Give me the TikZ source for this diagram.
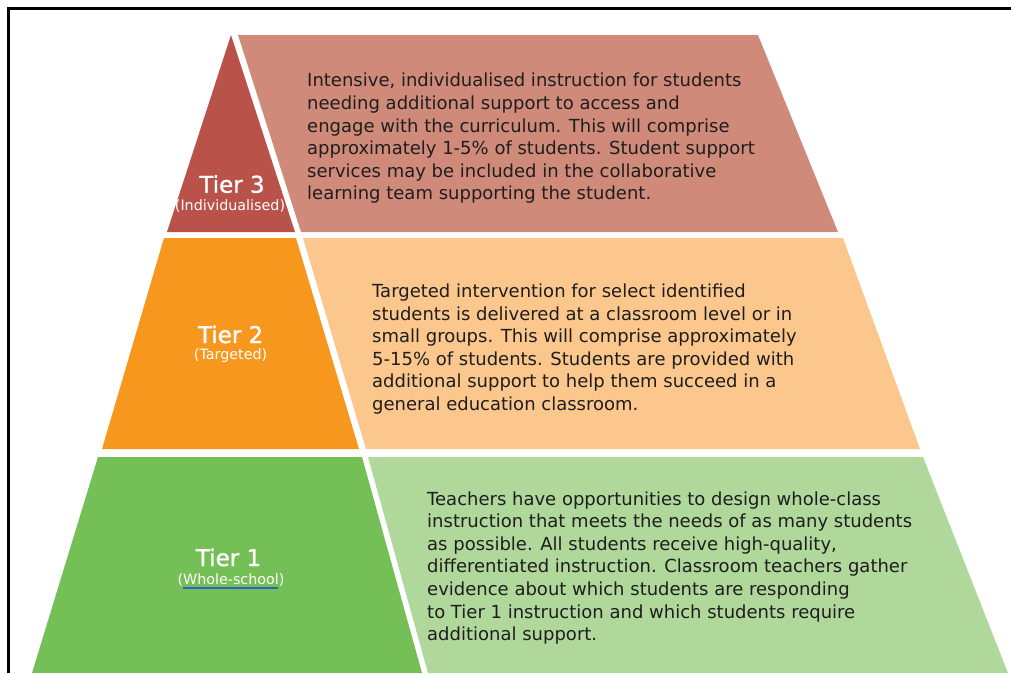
\documentclass[tikz,border=0pt]{standalone}
\usepackage{fontspec}
\setmainfont{DejaVu Sans}
\newfontfamily\tierfont[FakeBold=1.2]{DejaVu Sans}
\definecolor{tthreeL}{HTML}{B9534A}
\definecolor{tthreeR}{HTML}{D08A7A}
\definecolor{ttwoL}{HTML}{F7971E}
\definecolor{ttwoR}{HTML}{FBC78C}
\definecolor{toneL}{HTML}{75BF57}
\definecolor{toneR}{HTML}{B0D89B}
\definecolor{bodyink}{HTML}{1E1E1E}
\definecolor{squiggle}{HTML}{2A62C8}
\begin{document}
\begin{tikzpicture}[x=1pt,y=-1pt,
  tierlabel/.style={text=white, font=\tierfont\fontsize{23}{28}\selectfont, inner sep=0pt, anchor=base},
  tiersub/.style={text=white, font=\fontsize{14.3}{16}\selectfont, inner sep=0pt, anchor=base},
  bodytext/.style={text=bodyink, font=\fontsize{18}{22.6}\selectfont, align=left, inner sep=0pt, anchor=north west},
  frameline/.style={line width=2.5pt, black}]
\useasboundingbox (0,0) rectangle (1011,673);
% frame
\draw[frameline] (8.5,673) -- (8.5,8.5) -- (1011,8.5);
% tier 3
\fill[tthreeL] (231,35) -- (295,232) -- (167,232) -- cycle;
\fill[tthreeR] (238,35) -- (758,35) -- (838,232) -- (301,232) -- cycle;
% tier 2
\fill[ttwoL] (164,238) -- (296,238) -- (359,449) -- (102,449) -- cycle;
\fill[ttwoR] (303,238) -- (843,238) -- (920,449) -- (366,449) -- cycle;
% tier 1
\fill[toneL] (98,457) -- (362,457) -- (422,673) -- (32,673) -- cycle;
\fill[toneR] (368,457) -- (923,457) -- (1008,673) -- (428,673) -- cycle;
% labels
\node[tierlabel] (t3) at (232,192.7) {Tier 3};
\node[tiersub] (t3s) at (230,210.7) {(Individualised)};
\node[tierlabel] (t2) at (230.6,343) {Tier 2};
\node[tiersub] (t2s) at (230.6,359.5) {(Targeted)};
\node[tierlabel] (t1) at (228.5,566) {Tier 1};
\node[tiersub] (t1s) at (231,584.5) {(Whole-school)};
\draw[squiggle, line width=1.1pt] (183,588) -- (278,588);
% body texts
\node[bodytext] (b3) at (307,73) {Intensive, individualised instruction for students\\
needing additional support to access and\\
engage with the curriculum. This will comprise\\
approximately 1-5\% of students. Student support\\
services may be included in the collaborative\\
learning team supporting the student.};
\node[bodytext] (b2) at (372,283.6) {Targeted intervention for select identified\\
students is delivered at a classroom level or in\\
small groups. This will comprise approximately\\
5-15\% of students. Students are provided with\\
additional support to help them succeed in a\\
general education classroom.};
\node[bodytext] (b1) at (427,491.3) {Teachers have opportunities to design whole-class\\
instruction that meets the needs of as many students\\
as possible. All students receive high-quality,\\
differentiated instruction. Classroom teachers gather\\
evidence about which students are responding\\
to Tier 1 instruction and which students require\\
additional support.};
\end{tikzpicture}
\end{document}
